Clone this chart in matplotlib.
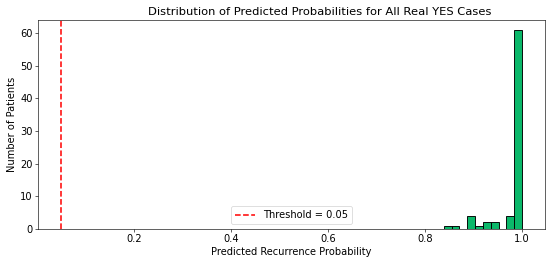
import numpy as np
import matplotlib
matplotlib.use("Agg")
import matplotlib.pyplot as plt

# Histogram bins (10 bins between min and max predicted probability)
bin_start = 0.839
bin_end = 1.0
n_bins = 10
counts = [1, 1, 0, 4, 1, 2, 2, 0, 4, 61]
threshold = 0.05

title = "Distribution of Predicted Probabilities for All Real YES Cases"
xlabel = "Predicted Recurrence Probability"
ylabel = "Number of Patients"

edges = np.linspace(bin_start, bin_end, n_bins + 1)

fig = plt.figure(figsize=(10, 263 / 55), dpi=55)
ax = fig.add_axes([38 / 550, 1 - 229 / 263, 507 / 550, 209 / 263])
ax.hist(edges[:-1], bins=edges, weights=counts, color="#0bb86a",
        edgecolor="black", linewidth=1.2)
ax.axvline(threshold, color="red", linestyle="--", linewidth=2,
           label=f"Threshold = {threshold}")
ax.set_title(title, fontsize=15, x=0.556)
ax.set_xlabel(xlabel, fontsize=13)
ax.set_ylabel(ylabel, fontsize=13)
ax.tick_params(labelsize=13)
ax.legend(loc="lower center", fontsize=13)
fig.savefig("out.png", dpi=55)
